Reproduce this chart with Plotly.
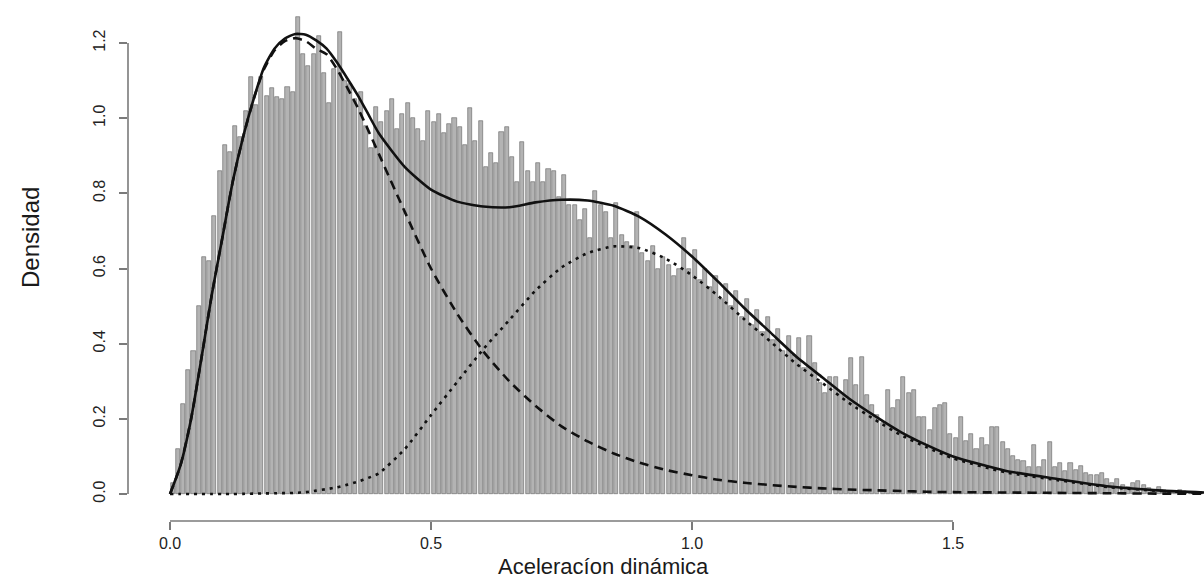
import numpy as np
import plotly.graph_objects as go

# Histogram of dynamic acceleration (density scale), bin width 0.01 starting at 0
bin_width = 0.01
hist_density = [
    0.03, 0.12, 0.24, 0.33, 0.38, 0.50, 0.63, 0.62, 0.74, 0.86,
    0.93, 0.91, 0.98, 0.95, 1.02, 1.11, 1.035, 1.11, 1.06, 1.08,
    1.056, 1.05, 1.083, 1.07, 1.27, 1.17, 1.14, 1.17, 1.22, 1.12,
    1.04, 1.13, 1.23, 1.10, 1.09, 1.05, 1.07, 0.98, 0.92, 1.03,
    0.99, 1.02, 1.05, 0.97, 1.01, 1.04, 1.00, 0.97, 0.94, 1.02,
    0.99, 1.01, 0.96, 0.985, 1.00, 0.977, 0.93, 1.027, 0.94, 0.993,
    0.87, 0.907, 0.88, 0.963, 0.977, 0.897, 0.83, 0.937, 0.86, 0.83,
    0.88, 0.83, 0.865, 0.86, 0.79, 0.85, 0.77, 0.77, 0.73, 0.758,
    0.68, 0.806, 0.77, 0.75, 0.68, 0.774, 0.69, 0.67, 0.66, 0.75,
    0.64, 0.62, 0.66, 0.60, 0.63, 0.61, 0.58, 0.60, 0.68, 0.60,
    0.65, 0.57, 0.60, 0.55, 0.58, 0.52, 0.56, 0.50, 0.54, 0.47,
    0.52, 0.45, 0.49, 0.43, 0.47, 0.41, 0.44, 0.38, 0.42, 0.37,
    0.415, 0.335, 0.42, 0.349, 0.295, 0.27, 0.311, 0.311, 0.27, 0.303,
    0.362, 0.29, 0.365, 0.263, 0.237, 0.21, 0.19, 0.277, 0.229, 0.25,
    0.311, 0.268, 0.277, 0.205, 0.205, 0.17, 0.229, 0.237, 0.242, 0.16,
    0.15, 0.205, 0.14, 0.16, 0.12, 0.15, 0.13, 0.178, 0.178, 0.139,
    0.12, 0.10, 0.09, 0.088, 0.073, 0.13, 0.073, 0.09, 0.139, 0.073,
    0.082, 0.06, 0.082, 0.064, 0.075, 0.055, 0.05, 0.05, 0.056, 0.04,
    0.03, 0.04, 0.025, 0.02, 0.03, 0.035, 0.025, 0.015, 0.012, 0.02,
    0.01, 0.008, 0.006, 0.01, 0.004, 0.003, 0.002, 0.002,
]
bin_centers = bin_width * (np.arange(len(hist_density)) + 0.5)

# Fitted two-component mixture densities along the x range
curve_x = [0, 0.02, 0.04, 0.06, 0.08, 0.10, 0.12, 0.14, 0.16, 0.18,
           0.20, 0.22, 0.24, 0.26, 0.28, 0.30, 0.32, 0.34, 0.36, 0.38,
           0.40, 0.45, 0.50, 0.55, 0.60, 0.65, 0.70, 0.75, 0.80, 0.85,
           0.90, 0.95, 1.00, 1.05, 1.10, 1.15, 1.20, 1.25, 1.30, 1.35,
           1.40, 1.45, 1.50, 1.60, 1.70, 1.80, 1.90, 2.00]

mixture_total = [0, 0.076, 0.197, 0.36, 0.53, 0.68, 0.83, 0.95, 1.05, 1.135,
                 1.185, 1.212, 1.224, 1.222, 1.207, 1.185, 1.148, 1.105, 1.06, 1.01,
                 0.96, 0.87, 0.81, 0.778, 0.765, 0.763, 0.776, 0.783, 0.781, 0.767,
                 0.737, 0.69, 0.632, 0.565, 0.495, 0.43, 0.365, 0.31, 0.255, 0.208,
                 0.165, 0.13, 0.10, 0.062, 0.04, 0.02, 0.009, 0.003]

component_low = [0, 0.076, 0.197, 0.36, 0.53, 0.68, 0.83, 0.95, 1.05, 1.13,
                 1.18, 1.205, 1.213, 1.205, 1.185, 1.17, 1.13, 1.08, 1.027, 0.967,
                 0.905, 0.75, 0.60, 0.48, 0.38, 0.30, 0.235, 0.18, 0.14, 0.108,
                 0.083, 0.064, 0.05, 0.038, 0.03, 0.024, 0.019, 0.015, 0.012, 0.01,
                 0.008, 0.006, 0.005, 0.004, 0.003, 0.002, 0.001, 0.001]

component_high = [0, 0, 0, 0, 0, 0, 0, 0.0005, 0.001, 0.0015,
                  0.002, 0.0025, 0.003, 0.005, 0.009, 0.013, 0.018, 0.025, 0.033, 0.043,
                  0.055, 0.12, 0.21, 0.298, 0.385, 0.463, 0.541, 0.603, 0.641, 0.659,
                  0.654, 0.626, 0.582, 0.527, 0.465, 0.406, 0.346, 0.295, 0.243, 0.198,
                  0.157, 0.124, 0.095, 0.058, 0.037, 0.018, 0.008, 0.002]

x_ticks = [0.0, 0.5, 1.0, 1.5]
x_tick_text = ["0.0", "0.5", "1.0", "1.5"]
y_ticks = [0.0, 0.2, 0.4, 0.6, 0.8, 1.0, 1.2]
y_tick_text = ["0.0", "0.2", "0.4", "0.6", "0.8", "1.0", "1.2"]

FONT = "Liberation Sans, Arial, sans-serif"
AXIS_GRAY = "#7a7a7a"
X_RANGE = [-0.0805, 1.9808]
Y_RANGE = [-0.0718, 1.3145]
L_MARGIN, PLOT_W, PLOT_H = 128, 1076, 521

fig = go.Figure()

fig.add_trace(go.Bar(
    x=bin_centers, y=hist_density, width=bin_width * 0.78,
    marker=dict(color="#b3b3b3", line=dict(color="#626262", width=0.6)),
    showlegend=False, hoverinfo="skip",
))

line_common = dict(shape="spline", smoothing=0.6)
fig.add_trace(go.Scatter(
    x=curve_x, y=component_low, mode="lines",
    line=dict(color="#111111", width=2.6, dash="9px,6px", **line_common),
    showlegend=False,
))
fig.add_trace(go.Scatter(
    x=curve_x, y=component_high, mode="lines",
    line=dict(color="#111111", width=2.6, dash="3px,5px", **line_common),
    showlegend=False,
))
fig.add_trace(go.Scatter(
    x=curve_x, y=mixture_total, mode="lines",
    line=dict(color="#111111", width=2.6, **line_common),
    showlegend=False,
))

# R-style detached axis lines spanning only the labelled ticks
fig.add_shape(type="line", xref="x", yref="paper", x0=x_ticks[0], x1=x_ticks[-1],
              y0=0, y1=0, line=dict(color=AXIS_GRAY, width=1.6))
fig.add_shape(type="line", xref="paper", yref="y", x0=0, x1=0,
              y0=y_ticks[0], y1=y_ticks[-1], line=dict(color=AXIS_GRAY, width=1.6))

fig.add_annotation(text="Aceleracíon dinámica", xref="paper", yref="paper",
                   x=(603 - L_MARGIN) / PLOT_W, y=(PLOT_H - 566) / PLOT_H,
                   xanchor="center", yanchor="middle", showarrow=False,
                   font=dict(family=FONT, size=22, color="#1a1a1a"))
fig.add_annotation(text="Densidad", xref="paper", yref="paper",
                   x=(30 - L_MARGIN) / PLOT_W, y=(PLOT_H - 238) / PLOT_H, textangle=-90,
                   xanchor="center", yanchor="middle", showarrow=False,
                   font=dict(family=FONT, size=24, color="#1a1a1a"))

fig.update_layout(
    width=1204, height=581,
    margin=dict(l=L_MARGIN, r=0, t=0, b=581 - PLOT_H),
    paper_bgcolor="white", plot_bgcolor="white",
    bargap=0,
    xaxis=dict(range=X_RANGE, tickvals=x_ticks, ticktext=x_tick_text,
               ticks="outside", ticklen=8, tickwidth=1.6, tickcolor=AXIS_GRAY,
               ticklabelstandoff=0,
               showgrid=False, zeroline=False, showline=False,
               tickfont=dict(family=FONT, size=16, color="#222222")),
    yaxis=dict(range=Y_RANGE, tickvals=y_ticks, ticktext=y_tick_text,
               ticks="outside", ticklen=8, tickwidth=1.6, tickcolor=AXIS_GRAY,
               tickangle=-90, ticklabelstandoff=8,
               showgrid=False, zeroline=False, showline=False,
               tickfont=dict(family=FONT, size=16, color="#222222")),
)

fig.write_html("out.html")
